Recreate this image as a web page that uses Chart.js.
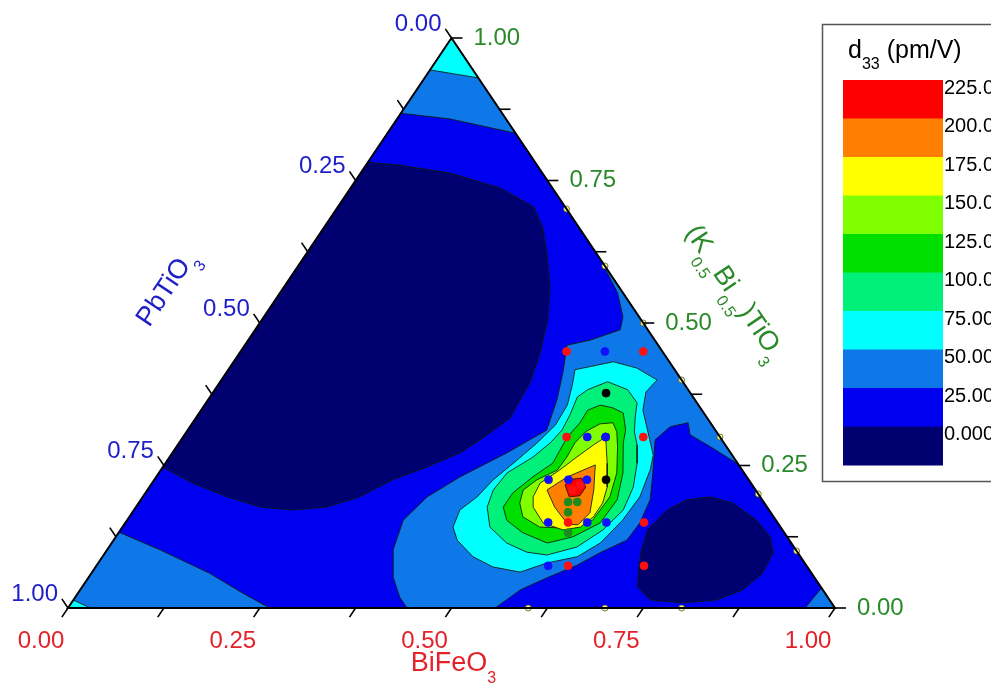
<!DOCTYPE html>
<html>
<head>
<meta charset="utf-8">
<script src="https://cdn.jsdelivr.net/npm/chart.js@4.4.1/dist/chart.umd.min.js"></script>
<style>
html, body { margin: 0; padding: 0; background: #fff; }
#wrap { position: relative; width: 991px; height: 698px; }
</style>
</head>
<body>
<div id="wrap"><canvas id="ternary" width="991" height="698"></canvas></div>
<script>
// every point is [BiFeO3, (K0.5Bi0.5)TiO3]; PbTiO3 = 1 - both
var levelLabels = ['0.000', '25.00', '50.00', '75.00', '100.0', '125.0', '150.0', '175.0', '200.0', '225.0'];
var levelColors = ['#000070', '#0000f0', '#0f78e8', '#00ffff', '#00f07a', '#00e000', '#80ff00', '#ffff00', '#ff8000', '#ff0000'];

var tickValues = [0, 0.125, 0.25, 0.375, 0.5, 0.625, 0.75, 0.875, 1];
var tickLabels = ['0.00', '0.25', '0.50', '0.75', '1.00'];

// contour regions, listed from bottom layer to top layer
var wholeTriangle = [[0, 0], [1, 0], [0, 1]];
var topBand50 = [[0, 1], [0, 0.868], [0.069, 0.858], [0.167, 0.833]];
var topTip75 = [[0, 1], [0, 0.944], [0.07, 0.93]];
var cornerBL50 = [[0, 0], [0, 0.133], [0.069, 0.102], [0.154, 0.061], [0.215, 0.026], [0.263, 0]];
var cornerBL75 = [[0, 0], [0, 0.014], [0.029, 0]];
var cornerBR50 = [[1, 0], [0.961, 0], [0.965, 0.035]];
var navyLeft = [[0, 0.782], [0.044, 0.777], [0.117, 0.763], [0.195, 0.737], [0.255, 0.704], [0.285, 0.668],
  [0.313, 0.623], [0.347, 0.563], [0.373, 0.505], [0.392, 0.447], [0.405, 0.395], [0.407, 0.365],
  [0.410, 0.333], [0.390, 0.295], [0.375, 0.272], [0.344, 0.247], [0.311, 0.225], [0.283, 0.195],
  [0.249, 0.177], [0.207, 0.172], [0.162, 0.177], [0.110, 0.195], [0.053, 0.219], [0, 0.247]];
var navyRight = [[0.698, 0.097], [0.687, 0.137], [0.695, 0.172], [0.712, 0.19], [0.740, 0.195], [0.775, 0.184],
  [0.821, 0.154], [0.853, 0.125], [0.871, 0.097], [0.875, 0.061], [0.864, 0.032], [0.839, 0.014],
  [0.797, 0.009], [0.752, 0.014], [0.724, 0.037], [0.713, 0.061]];
var hot50 = [[0.386, 0.614], [0.758, 0.242], [0.745, 0.254], [0.696, 0.283], [0.659, 0.304], [0.646, 0.325],
  [0.626, 0.318], [0.618, 0.295], [0.644, 0.237], [0.664, 0.190], [0.671, 0.149], [0.669, 0.119],
  [0.645, 0.097], [0.626, 0.075], [0.598, 0.053], [0.574, 0.032], [0.557, 0], [0.442, 0],
  [0.423, 0.019], [0.397, 0.054], [0.373, 0.102], [0.360, 0.154], [0.371, 0.195], [0.396, 0.230],
  [0.436, 0.272], [0.468, 0.312], [0.455, 0.365], [0.437, 0.418], [0.420, 0.461], [0.446, 0.470],
  [0.476, 0.488], [0.468, 0.511], [0.440, 0.553]];
var hot75 = [[0.452, 0.418], [0.495, 0.432], [0.531, 0.421], [0.568, 0.400], [0.564, 0.379], [0.576, 0.347],
  [0.611, 0.295], [0.629, 0.268], [0.638, 0.242], [0.648, 0.195], [0.646, 0.154], [0.637, 0.114],
  [0.619, 0.090], [0.585, 0.079], [0.558, 0.063], [0.518, 0.072], [0.483, 0.090], [0.448, 0.119],
  [0.431, 0.142], [0.425, 0.172], [0.436, 0.195], [0.442, 0.225], [0.456, 0.260], [0.467, 0.290],
  [0.475, 0.321], [0.473, 0.356], [0.462, 0.391]];
var hot100 = [[0.479, 0.370], [0.486, 0.383], [0.505, 0.397], [0.538, 0.383], [0.562, 0.360], [0.572, 0.335],
  [0.584, 0.309], [0.599, 0.286], [0.615, 0.254], [0.631, 0.212], [0.638, 0.172], [0.629, 0.137],
  [0.610, 0.107], [0.578, 0.093], [0.549, 0.098], [0.515, 0.114], [0.479, 0.142], [0.458, 0.177],
  [0.451, 0.207], [0.454, 0.237], [0.474, 0.265], [0.484, 0.290], [0.488, 0.312], [0.485, 0.339]];
var hot125 = [[0.504, 0.347], [0.516, 0.356], [0.535, 0.351], [0.553, 0.342], [0.571, 0.312], [0.579, 0.290],
  [0.605, 0.237], [0.621, 0.190], [0.619, 0.149], [0.596, 0.125], [0.568, 0.114], [0.527, 0.132],
  [0.495, 0.154], [0.479, 0.177], [0.479, 0.202], [0.491, 0.230], [0.505, 0.254], [0.503, 0.277],
  [0.501, 0.300], [0.505, 0.325]];
var hot150 = [[0.520, 0.309], [0.532, 0.323], [0.548, 0.325], [0.561, 0.309], [0.575, 0.283], [0.597, 0.237],
  [0.609, 0.195], [0.607, 0.154], [0.580, 0.140], [0.544, 0.142], [0.513, 0.160], [0.497, 0.184],
  [0.490, 0.207], [0.499, 0.225], [0.517, 0.242], [0.518, 0.265], [0.516, 0.290]];
var hot175 = [[0.551, 0.300], [0.576, 0.254], [0.597, 0.212], [0.605, 0.184], [0.605, 0.160], [0.597, 0.142],
  [0.577, 0.137], [0.545, 0.149], [0.518, 0.177], [0.509, 0.195], [0.506, 0.219], [0.520, 0.242],
  [0.531, 0.265], [0.542, 0.286]];
var hot200 = [[0.521, 0.207], [0.536, 0.230], [0.562, 0.251], [0.582, 0.207], [0.597, 0.167], [0.592, 0.146],
  [0.578, 0.147], [0.546, 0.177]];
var hot225 = [[0.540, 0.216], [0.544, 0.226], [0.556, 0.228], [0.569, 0.212], [0.569, 0.197], [0.556, 0.195]];

var regions = [
  [wholeTriangle, 1], [topBand50, 2], [topTip75, 3], [cornerBL50, 2], [cornerBL75, 3], [cornerBR50, 2],
  [navyLeft, 0], [navyRight, 0], [hot50, 2], [hot75, 3], [hot100, 4], [hot125, 5], [hot150, 6],
  [hot175, 7], [hot200, 8], [hot225, 9]
];

// measured compositions
var redPoints = [[0.425, 0.45], [0.525, 0.45], [0.50, 0.30], [0.60, 0.30], [0.554, 0.207], [0.560, 0.216],
  [0.577, 0.15], [0.676, 0.15], [0.615, 0.074], [0.714, 0.074]];
var bluePoints = [[0.475, 0.45], [0.527, 0.30], [0.551, 0.30], [0.514, 0.225], [0.540, 0.225], [0.564, 0.225],
  [0.551, 0.15], [0.602, 0.15], [0.627, 0.15], [0.589, 0.074]];
var blackPoints = [[0.513, 0.377], [0.551, 0.30], [0.589, 0.225]];
var greenPoints = [[0.559, 0.186], [0.571, 0.186], [0.568, 0.168], [0.586, 0.132]];
var edgePoints = [[0.3, 0.7], [0.4, 0.6], [0.5, 0.5], [0.6, 0.4], [0.7, 0.3], [0.8, 0.2], [0.9, 0.1],
  [0.6, 0], [0.7, 0], [0.8, 0]];

function toXY(p) { return { x: p[0] + p[1] / 2, y: p[1] }; }
function ring(pts) { var d = pts.map(toXY); d.push(d[0]); return d; }

var datasets = [];
var n = regions.length + 10;
regions.forEach(function (r, i) {
  datasets.push({
    type: 'line', data: ring(r[0]), order: n - i,
    backgroundColor: levelColors[r[1]], borderColor: i === 0 ? levelColors[r[1]] : 'rgba(15,25,15,0.85)',
    borderWidth: i === 0 ? 0 : 1, fill: 'shape', tension: 0, pointRadius: 0
  });
});
function dots(pts, color, r, edge, order) {
  datasets.push({
    type: 'scatter', data: pts.map(toXY), order: order, pointRadius: r, pointHoverRadius: r,
    backgroundColor: color, borderColor: edge, borderWidth: 0.8, clip: false
  });
}
dots(blackPoints, '#000000', 4, '#000000', 5);
dots(greenPoints, '#1e8a1e', 4, '#1e8a1e', 4);
dots(redPoints, '#ff1010', 4, '#ff1010', 3);
dots(bluePoints, '#1010ff', 4, '#1010ff', 2);
dots(edgePoints, '#ffff88', 3, '#555533', 1);

var FONT = '"Liberation Sans", Arial, sans-serif';

function drawRich(ctx, parts, size, subSize, x, y, angle, align) {
  ctx.save();
  ctx.translate(x, y);
  ctx.rotate(angle);
  var w = 0;
  parts.forEach(function (p) { ctx.font = (p[1] ? subSize : size) + 'px ' + FONT; w += ctx.measureText(p[0]).width; });
  var cx = align === 'left' ? 0 : -w / 2;
  ctx.textBaseline = 'alphabetic';
  ctx.textAlign = 'left';
  parts.forEach(function (p) {
    ctx.font = (p[1] ? subSize : size) + 'px ' + FONT;
    ctx.fillText(p[0], cx, p[1] ? size * 0.45 : 0);
    cx += ctx.measureText(p[0]).width;
  });
  ctx.restore();
}

var ternaryAxes = {
  id: 'ternaryAxes',
  afterDatasetsDraw: function (chart) {
    var ctx = chart.ctx, sx = chart.scales.x, sy = chart.scales.y;
    function px(b, k) { return [sx.getPixelForValue(b + k / 2), sy.getPixelForValue(k)]; }
    function unit(a, b) { var dx = b[0] - a[0], dy = b[1] - a[1], l = Math.hypot(dx, dy); return [dx / l, dy / l]; }
    var A = px(0, 0), B = px(1, 0), C = px(0, 1);
    ctx.save();
    ctx.strokeStyle = '#000';
    ctx.lineWidth = 2;
    ctx.beginPath();
    ctx.moveTo(A[0], A[1]); ctx.lineTo(B[0], B[1]); ctx.lineTo(C[0], C[1]); ctx.closePath();
    ctx.stroke();

    var dBottom = unit(px(0.5, 0), px(0.5, -0.1));
    var dRight = [1, 0];
    var dLeft = unit(px(0, 0.5), px(-0.1, 0.6));
    var TL = 11;
    ctx.lineWidth = 1.6;
    ctx.font = '24px ' + FONT;
    ctx.textBaseline = 'middle';
    tickValues.forEach(function (v, i) {
      var p = px(v, 0);
      ctx.beginPath(); ctx.moveTo(p[0], p[1]); ctx.lineTo(p[0] + dBottom[0] * TL, p[1] + dBottom[1] * TL); ctx.stroke();
      var q = px(1 - v, v);
      ctx.beginPath(); ctx.moveTo(q[0], q[1]); ctx.lineTo(q[0] + dRight[0] * TL, q[1]); ctx.stroke();
      var r = px(0, 1 - v);
      ctx.beginPath(); ctx.moveTo(r[0], r[1]); ctx.lineTo(r[0] + dLeft[0] * TL, r[1] + dLeft[1] * TL); ctx.stroke();
      if (i % 2 === 0) {
        var t = tickLabels[i / 2];
        ctx.fillStyle = '#e3222a'; ctx.textAlign = 'center';
        ctx.fillText(t, p[0] - 27, p[1] + 33);
        ctx.fillStyle = '#2a8a2a'; ctx.textAlign = 'left';
        ctx.fillText(t, q[0] + 22, q[1]);
        ctx.fillStyle = '#1f1fc8'; ctx.textAlign = 'right';
        ctx.fillText(t, r[0] - 10, r[1] - 14);
      }
    });

    var angR = Math.atan2(A[1] - C[1], B[0] - C[0]);
    var midL = px(0, 0.5), midR = px(0.5, 0.5);
    ctx.fillStyle = '#e3222a';
    drawRich(ctx, [['BiFeO', 0], ['3', 1]], 27, 16, (A[0] + B[0]) / 2 + 2, A[1] + 63, 0);
    ctx.fillStyle = '#1f1fc8';
    drawRich(ctx, [['PbTiO', 0], ['3', 1]], 27, 16, midL[0] - 87, midL[1] - 30, -angR);
    ctx.fillStyle = '#2a8a2a';
    drawRich(ctx, [['(K', 0], ['0.5', 1], ['Bi', 0], ['0.5', 1], [')TiO', 0], ['3', 1]], 27, 16,
      midR[0] + 85, midR[1] - 26, angR);

    // colour scale box
    ctx.strokeStyle = '#555';
    ctx.lineWidth = 1.5;
    ctx.strokeRect(822.5, 24.5, 200, 457);
    ctx.fillStyle = '#000';
    drawRich(ctx, [['d', 0], ['33', 1], [' (pm/V)', 0]], 25, 16, 848, 58, 0, 'left');
    var bandH = 38.5, top0 = 80;
    ctx.font = '20px ' + FONT;
    ctx.textAlign = 'left';
    ctx.textBaseline = 'middle';
    for (var j = 0; j < levelColors.length; j++) {
      var idx = levelColors.length - 1 - j;
      ctx.fillStyle = levelColors[idx];
      ctx.fillRect(843, top0 + j * bandH, 100, bandH + 0.5);
      ctx.fillStyle = '#000';
      ctx.fillText(levelLabels[idx], 944, top0 + j * bandH + 8);
    }
    ctx.restore();
  }
};

new Chart(document.getElementById('ternary'), {
  type: 'scatter',
  data: { datasets: datasets },
  options: {
    responsive: false,
    animation: false,
    layout: { padding: { left: 68, right: 156, top: 38, bottom: 90 } },
    scales: {
      x: { type: 'linear', min: 0, max: 1, display: false },
      y: { type: 'linear', min: 0, max: 1, display: false }
    },
    plugins: { legend: { display: false }, tooltip: { enabled: false } },
    events: []
  },
  plugins: [ternaryAxes]
});
</script>
</body>
</html>
